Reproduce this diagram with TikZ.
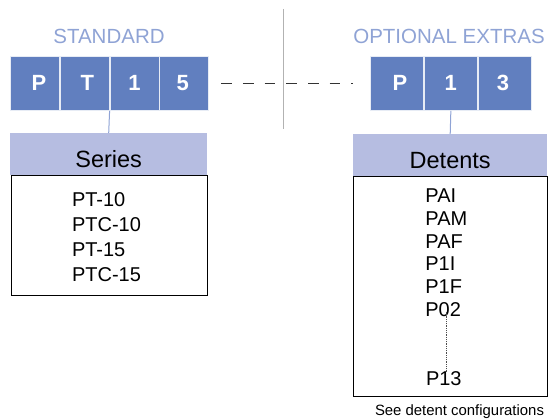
\documentclass[tikz,border=0pt]{standalone}
\usepackage{fontspec}
\setmainfont{Liberation Sans}
\usetikzlibrary{positioning}
\definecolor{codeblue}{RGB}{97,127,191}
\definecolor{headblue}{RGB}{182,189,225}
\definecolor{tagblue}{RGB}{143,163,213}

\begin{document}
\begin{tikzpicture}
[x=1pt,y=-1pt,
cell/.style={fill=codeblue,draw=white!85!codeblue,line width=.8pt,minimum height=54pt,
  inner sep=0pt,text=white,font=\fontsize{22}{26}\selectfont\bfseries},
tag/.style={text=tagblue,font=\fontsize{20.5}{24}\selectfont,inner sep=0pt,anchor=base},
head/.style={fill=headblue,minimum height=42pt,inner sep=0pt,
  text height=26pt,text depth=0pt,font=\fontsize{23.5}{28}\selectfont},
list/.style={draw,line width=.8pt,inner sep=0pt},
item/.style={anchor=base west,inner sep=0pt,font=\fontsize{20}{24}\selectfont},
link/.style={draw=tagblue,line width=1pt},
dashes/.style={draw=black!80,line width=1.5pt,dash pattern=on 10.7pt off 11pt},
divider/.style={draw=black!30,line width=1pt}]
\useasboundingbox (0,0) rectangle (548,419);
% standard part
\node [cell,minimum width=49.3pt,anchor=north west,text width=49.3pt,align=center] (lc1) at (10,56) {\hspace*{8pt}P};
\node [cell,minimum width=48.7pt,right=0pt of lc1] (lc2) {\hspace*{5pt}T};
\node [cell,minimum width=49pt,right=0pt of lc2] (lc3) {1};
\node [cell,minimum width=49pt,right=0pt of lc3] (lc4) {5\hspace*{3pt}};
\node [tag] (std) at (109,44) {STANDARD};
% optional extras
\node [cell,minimum width=53.3pt,anchor=north west] (rc1) at (370,56) {\hspace*{6pt}P};
\node [cell,minimum width=52.7pt,right=0pt of rc1] (rc2) {1};
\node [cell,minimum width=53pt,right=0pt of rc2] (rc3) {3\hspace*{3pt}};
\node [tag] (opt) at (449,43.3) {OPTIONAL EXTRAS};
\coordinate (dtop) at (283.5,9);
\coordinate (dbot) at (283.5,129);
\draw [divider] (dtop) -- (dbot);
\draw [dashes] ([xshift=12pt]lc4.east) -- ([xshift=-17pt]rc1.west);
% series
\node [head,minimum width=197pt,anchor=north west] (series) at (10,133) {Series};
\node [list,minimum width=196.5pt,minimum height=119pt,anchor=north west] (serbox) at (10.7,175.5) {};
\draw [link] (lc3.south west) -- (series.north);
\node [item] (s1) at (71.8,207) {PT-10};
\node [item] (s2) at (71.8,231.7) {PTC-10};
\node [item] (s3) at (71.8,256.5) {PT-15};
\node [item] (s4) at (71.8,281.5) {PTC-15};
% detents
\node [head,minimum width=194pt,anchor=north west] (detents) at (353,134) {Detents};
\node [list,minimum width=193.7pt,minimum height=219.5pt,anchor=north west] (detbox) at (353.3,176) {};
\draw [link] (rc2.south) -- (detents.north);
\node [item] (d1) at (425.2,202.7) {PAI};
\node [item] (d2) at (425.2,225.7) {PAM};
\node [item] (d3) at (425.2,248.3) {PAF};
\node [item] (d4) at (425.2,270.7) {P1I};
\node [item] (d5) at (425.2,293.3) {P1F};
\node [item] (d6) at (425.2,316.7) {P02};
\node [item] (d7) at (425.8,385) {P13};
\draw [densely dotted,line width=.8pt,black!70] ([yshift=5pt]d6.south -| 446.7,0) -- ([yshift=-1pt]d7.north -| 446.7,0);
\node [anchor=base,inner sep=0pt,font=\fontsize{14.9}{18}\selectfont] (note) at (459.5,415) {See detent configurations};
\end{tikzpicture}
\end{document}
